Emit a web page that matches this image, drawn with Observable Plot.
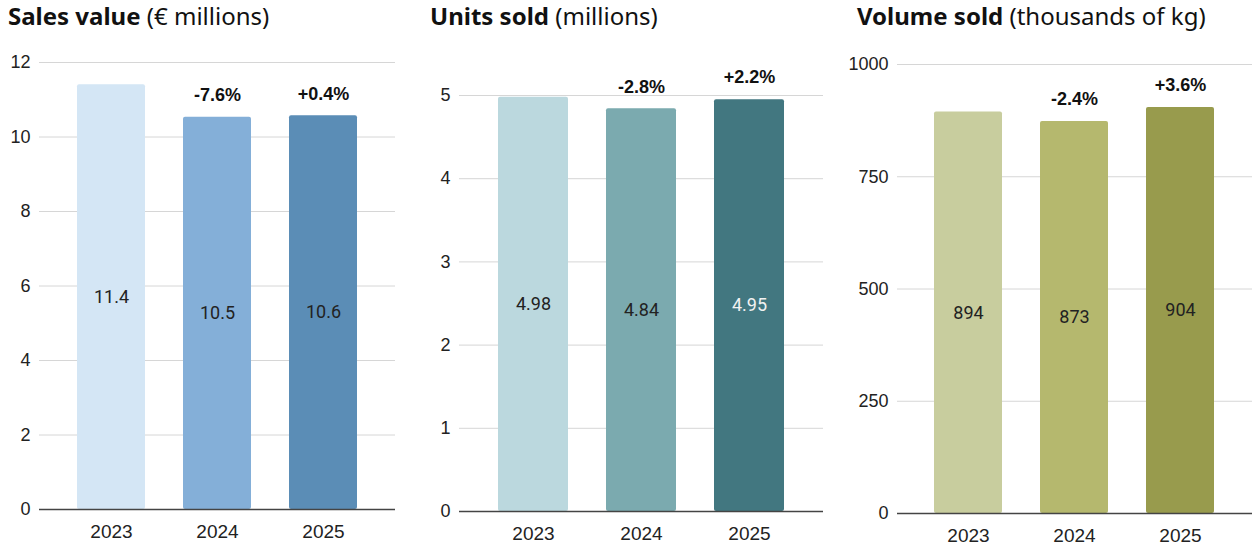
<!DOCTYPE html>
<html>
<head>
<meta charset="utf-8">
<script src="https://cdn.jsdelivr.net/npm/d3@7"></script>
<script src="https://cdn.jsdelivr.net/npm/@observablehq/plot@0.6"></script>
<style>
  html, body { margin: 0; padding: 0; background: #fff; }
  #wrap { position: relative; width: 1252px; height: 545px; overflow: hidden; }
  .title { position: absolute; top: 1px; font-family: "Noto Sans", sans-serif; font-size: 24px; line-height: 30px; color: #111; white-space: nowrap; }
  .title b { font-weight: 700; }
  .panel { position: absolute; top: 40px; }
</style>
</head>
<body>
<div id="wrap"></div>
<script>
// ---- data ----
const years = ["2023", "2024", "2025"];

const salesValues = [11.40, 10.53, 10.57];
const salesLabels = ["11.4", "10.5", "10.6"];
const salesChange = ["", "-7.6%", "+0.4%"];
const salesTicks = [0, 2, 4, 6, 8, 10, 12];
const salesColors = ["#d4e6f5", "#84afd8", "#5b8db6"];

const unitsValues = [4.98, 4.84, 4.95];
const unitsLabels = ["4.98", "4.84", "4.95"];
const unitsChange = ["", "-2.8%", "+2.2%"];
const unitsTicks = [0, 1, 2, 3, 4, 5];
const unitsColors = ["#bbd8de", "#7baaaf", "#427780"];

const volumeValues = [894, 873, 904];
const volumeLabels = ["894", "873", "904"];
const volumeChange = ["", "-2.4%", "+3.6%"];
const volumeTicks = [0, 250, 500, 750, 1000];
const volumeColors = ["#c8cd9e", "#b5b86e", "#989b4d"];

// ---- drawing ----
const wrap = document.getElementById("wrap");

function panel(cfg) {
  const data = years.map((y, i) => ({
    year: y, value: cfg.values[i], label: cfg.labels[i], change: cfg.change[i],
    color: cfg.colors[i], textColor: cfg.textColors[i]
  }));
  const t = document.createElement("div");
  t.className = "title";
  t.style.left = cfg.titleLeft + "px";
  t.innerHTML = `<b>${cfg.titleBold}</b> ${cfg.titleRest}`;
  wrap.appendChild(t);

  const chart = Plot.plot({
    width: cfg.width,
    height: 505,
    marginTop: cfg.mt,
    marginBottom: cfg.mb,
    marginLeft: cfg.ml,
    marginRight: cfg.mr,
    style: { fontFamily: "'Liberation Sans', Arial, sans-serif", fontSize: "18px", color: "#333", background: "#fff" },
    x: { domain: years, paddingInner: 0.355, paddingOuter: 0.35, label: null },
    y: { domain: [0, cfg.ticks[cfg.ticks.length - 1]], label: null },
    color: { type: "identity" },
    marks: [
      Plot.gridY(cfg.ticks.filter(d => d !== 0), { stroke: "#d6d6d6", strokeOpacity: 1, strokeWidth: 1 }),
      Plot.barY(data, { x: "year", y: "value", fill: "color", rx: 2 }),
      Plot.ruleY([0], { stroke: "#444", strokeWidth: 1.5 }),
      Plot.text(data, {
        x: "year", y: d => d.value / 2, text: "label", fill: "textColor",
        fontFamily: "Roboto, sans-serif", fontSize: 18
      }),
      Plot.text(data, {
        x: "year", y: "value", text: "change", dy: -22, fill: "#111",
        fontWeight: "bold", fontSize: 18
      }),
      Plot.axisX({ tickSize: 0, tickPadding: 15, fontSize: 19, fill: "#222" }),
      Plot.axisY({ ticks: cfg.ticks, tickFormat: d => String(d), tickSize: 0, tickPadding: 9, fontSize: 18, fill: "#222" })
    ]
  });
  const holder = document.createElement("div");
  holder.className = "panel";
  holder.style.left = cfg.left + "px";
  holder.appendChild(chart);
  wrap.appendChild(holder);
}

panel({
  titleBold: "Sales value", titleRest: "(€ millions)", titleLeft: 8,
  left: 0, width: 410, mt: 22, mb: 36, ml: 39, mr: 15,
  values: salesValues, labels: salesLabels, change: salesChange, ticks: salesTicks,
  colors: salesColors, textColors: ["#222", "#222", "#222"]
});
panel({
  titleBold: "Units sold", titleRest: "(millions)", titleLeft: 430,
  left: 420, width: 420, mt: 55, mb: 34, ml: 39, mr: 17,
  values: unitsValues, labels: unitsLabels, change: unitsChange, ticks: unitsTicks,
  colors: unitsColors, textColors: ["#222", "#222", "#f2f2f2"]
});
panel({
  titleBold: "Volume sold", titleRest: "(thousands of kg)", titleLeft: 857,
  left: 830, width: 422, mt: 24, mb: 32, ml: 67, mr: 0,
  values: volumeValues, labels: volumeLabels, change: volumeChange, ticks: volumeTicks,
  colors: volumeColors, textColors: ["#222", "#222", "#222"]
});
</script>
</body>
</html>
